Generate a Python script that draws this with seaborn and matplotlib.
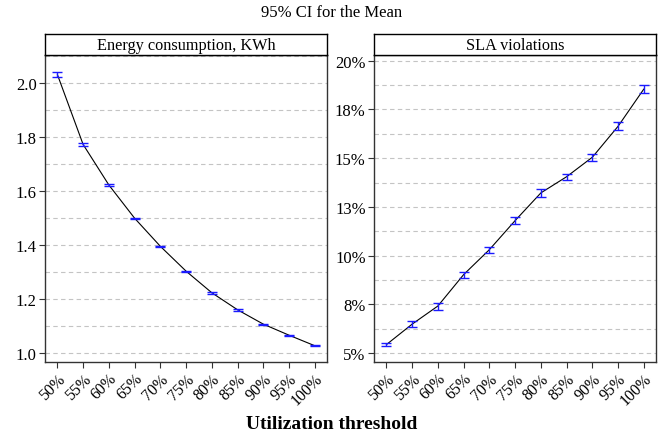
import numpy as np
import pandas as pd
import matplotlib
matplotlib.use('Agg')
import matplotlib.pyplot as plt
import seaborn as sns

thresholds = ['50%', '55%', '60%', '65%', '70%', '75%', '80%', '85%', '90%', '95%', '100%']

energy_mean = [2.032, 1.773, 1.623, 1.500, 1.396, 1.304, 1.224, 1.161, 1.108, 1.067, 1.028]
energy_err = [0.008, 0.004, 0.003, 0.002, 0.003, 0.002, 0.003, 0.003, 0.002, 0.002, 0.002]

sla_mean = [0.0544, 0.0649, 0.0742, 0.0903, 0.1031, 0.1180, 0.1322, 0.1405, 0.1505, 0.1664, 0.1855]
sla_err = [0.0009, 0.0016, 0.0018, 0.0015, 0.0016, 0.0017, 0.0020, 0.0015, 0.0017, 0.0019, 0.0019]

energy_ticks = [1.0, 1.2, 1.4, 1.6, 1.8, 2.0]
energy_minor = [1.1, 1.3, 1.5, 1.7, 1.9, 2.1]
sla_ticks = [0.05, 0.075, 0.10, 0.125, 0.15, 0.175, 0.20]
sla_tick_labels = ['5%', '8%', '10%', '13%', '15%', '18%', '20%']
sla_minor = [0.0625, 0.0875, 0.1125, 0.1375, 0.1625, 0.1875]

sns.set_style('white')
plt.rcParams['font.family'] = ['Liberation Serif', 'DejaVu Serif']
plt.rcParams['text.color'] = 'black'
plt.rcParams['xtick.color'] = 'black'
plt.rcParams['ytick.color'] = 'black'

df = pd.DataFrame({'threshold': thresholds, 'x': np.arange(len(thresholds)),
                   'energy': energy_mean, 'energy_err': energy_err,
                   'sla': sla_mean, 'sla_err': sla_err})

fig = plt.figure(figsize=(6.64, 4.39), dpi=100)
W, H = 664, 439


def px_axes(x0, y0, x1, y1):
    return fig.add_axes([x0 / W, 1 - y1 / H, (x1 - x0) / W, (y1 - y0) / H])


panels = [
    ('energy', 'energy_err', 'Energy consumption, KWh', (45, 327), (0.968, 2.104),
     energy_ticks, [f'{t:.1f}' for t in energy_ticks], energy_minor),
    ('sla', 'sla_err', 'SLA violations', (374, 656), (0.0455, 0.2029),
     sla_ticks, sla_tick_labels, sla_minor),
]

for col, err, title, (x0, x1), ylim, ticks, labels, minor in panels:
    ax = px_axes(x0, 56, x1, 363)
    for t in ticks + minor:
        ax.axhline(t, color='#c4c4c4', lw=0.8, ls=(0, (4, 3)), zorder=0)
    sns.lineplot(data=df, x='x', y=col, ax=ax, color='black', lw=0.8, zorder=2)
    ax.errorbar(df['x'], df[col], yerr=df[err], fmt='none', ecolor='#1a1aff',
                elinewidth=1.0, capsize=3.5, capthick=1.0, zorder=3)
    ax.set_xlim(-0.48, 10.47)
    ax.set_ylim(*ylim)
    ax.set_xticks(df['x'])
    ax.set_xticklabels(thresholds, rotation=45, ha='right', rotation_mode='anchor',
                       fontsize=11.5)
    ax.set_yticks(ticks)
    ax.set_yticklabels(labels, fontsize=12)
    ax.set_xlabel('')
    ax.set_ylabel('')
    ax.tick_params(axis='both', direction='out', length=4, width=0.8, color='#333333',
                   left=True, bottom=True, pad=2)
    for s in ax.spines.values():
        s.set_color('#333333')
        s.set_linewidth(1.0)

    strip = px_axes(x0, 35, x1, 56)
    strip.set_xticks([])
    strip.set_yticks([])
    for s in strip.spines.values():
        s.set_color('black')
        s.set_linewidth(1.0)
    strip.text(0.5, 0.5, title, ha='center', va='center', fontsize=11.7,
               transform=strip.transAxes)

fig.text(0.5, 1 - 13 / H, '95% CI for the Mean', ha='center', va='center', fontsize=12)
fig.text(0.5, 1 - 425 / H, 'Utilization threshold', ha='center', va='center',
         fontsize=14, fontweight='bold')

plt.savefig('out.png', dpi=100)
